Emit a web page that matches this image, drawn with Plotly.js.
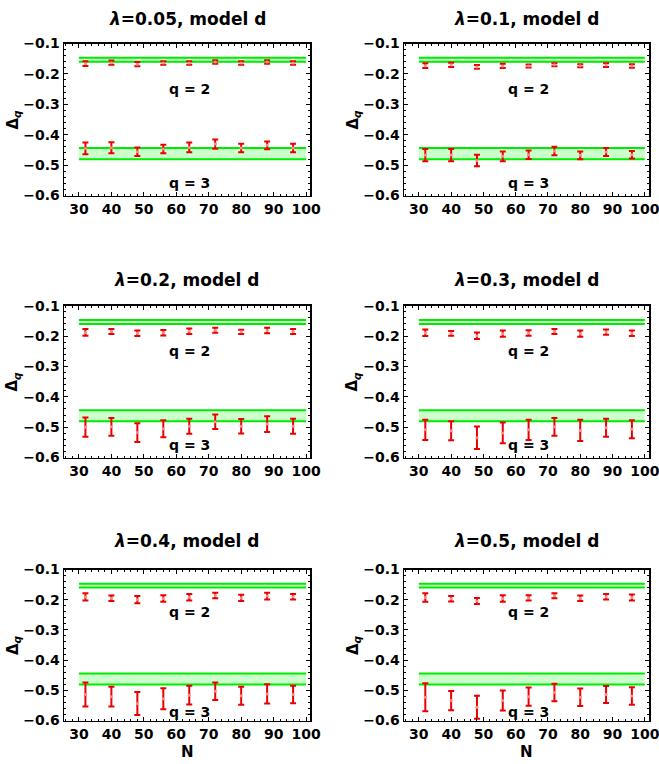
<!DOCTYPE html>
<html>
<head>
<meta charset="utf-8">
<script src="https://cdn.plot.ly/plotly-3.0.1.min.js"></script>
<style>html,body{margin:0;padding:0;background:#fff;}#chart{width:659px;height:764px;}</style>
</head>
<body>
<div id="chart"></div>
<script>
// ---- data ----
const N = [32, 40, 48, 56, 64, 72, 80, 88, 96];
const lambdas = ['0.05', '0.1', '0.2', '0.3', '0.4', '0.5'];
const xTicks = [30, 40, 50, 60, 70, 80, 90, 100];
const yTicks = [-0.1, -0.2, -0.3, -0.4, -0.5, -0.6];
const bandX = [30, 100];
const bandQ2 = [-0.147, -0.160];
const bandQ3 = [-0.444, -0.481];

const q2_l005 = [-0.166, -0.163, -0.168, -0.164, -0.164, -0.161, -0.164, -0.161, -0.164];
const q2err_l005 = [0.008, 0.007, 0.007, 0.006, 0.006, 0.006, 0.006, 0.006, 0.006];
const q3_l005 = [-0.445, -0.443, -0.456, -0.447, -0.442, -0.431, -0.444, -0.435, -0.444];
const q3err_l005 = [0.019, 0.018, 0.014, 0.014, 0.016, 0.015, 0.014, 0.013, 0.014];

const q2_l01 = [-0.173, -0.170, -0.177, -0.174, -0.174, -0.170, -0.173, -0.171, -0.174];
const q2err_l01 = [0.008, 0.007, 0.006, 0.007, 0.005, 0.005, 0.005, 0.006, 0.006];
const q3_l01 = [-0.467, -0.467, -0.485, -0.471, -0.466, -0.454, -0.468, -0.457, -0.466];
const q3err_l01 = [0.020, 0.020, 0.019, 0.016, 0.014, 0.014, 0.013, 0.013, 0.012];

const q2_l02 = [-0.188, -0.185, -0.191, -0.189, -0.184, -0.181, -0.186, -0.182, -0.185];
const q2err_l02 = [0.011, 0.008, 0.009, 0.009, 0.009, 0.008, 0.007, 0.009, 0.008];
const q3_l02 = [-0.500, -0.499, -0.518, -0.505, -0.497, -0.482, -0.497, -0.490, -0.497];
const q3err_l02 = [0.032, 0.029, 0.031, 0.028, 0.025, 0.024, 0.024, 0.026, 0.025];

const q2_l03 = [-0.189, -0.191, -0.199, -0.192, -0.190, -0.185, -0.192, -0.187, -0.191];
const q2err_l03 = [0.011, 0.008, 0.011, 0.010, 0.009, 0.008, 0.010, 0.009, 0.009];
const q3_l03 = [-0.509, -0.512, -0.535, -0.519, -0.509, -0.499, -0.511, -0.502, -0.507];
const q3err_l03 = [0.033, 0.031, 0.037, 0.034, 0.033, 0.029, 0.035, 0.030, 0.030];

const q2_l04 = [-0.191, -0.195, -0.200, -0.196, -0.192, -0.186, -0.194, -0.188, -0.190];
const q2err_l04 = [0.012, 0.009, 0.012, 0.011, 0.011, 0.009, 0.010, 0.011, 0.009];
const q3_l04 = [-0.514, -0.521, -0.544, -0.528, -0.516, -0.503, -0.518, -0.512, -0.514];
const q3err_l04 = [0.040, 0.033, 0.038, 0.035, 0.031, 0.029, 0.030, 0.032, 0.029];

const q2_l05 = [-0.193, -0.197, -0.204, -0.196, -0.194, -0.187, -0.195, -0.190, -0.193];
const q2err_l05 = [0.014, 0.009, 0.010, 0.011, 0.009, 0.008, 0.009, 0.009, 0.010];
const q3_l05 = [-0.523, -0.534, -0.556, -0.534, -0.521, -0.507, -0.523, -0.514, -0.519];
const q3err_l05 = [0.046, 0.032, 0.038, 0.033, 0.030, 0.029, 0.029, 0.028, 0.029];

const q2Series = [q2_l005, q2_l01, q2_l02, q2_l03, q2_l04, q2_l05];
const q2Errors = [q2err_l005, q2err_l01, q2err_l02, q2err_l03, q2err_l04, q2err_l05];
const q3Series = [q3_l005, q3_l01, q3_l02, q3_l03, q3_l04, q3_l05];
const q3Errors = [q3err_l005, q3err_l01, q3err_l02, q3err_l03, q3err_l04, q3err_l05];

// label positions (data coords) per row
const qLabelX = 64;
const q2LabelY = [-0.249, -0.249, -0.240];
const q3LabelY = [-0.559, -0.559, -0.572];

// ---- layout geometry ----
const W = 659, H = 764;
const colDom = [[64 / W, 310.3 / W], [404 / W, 649 / W]];
const rowTopPx = [43.5, 305.7, 569.5];
const rowBotPx = [195.5, 457.5, 720.5];
const titlePx = [18.5, 280, 540.5];

const FONT = 'DejaVu Sans, Liberation Sans, Arial, sans-serif';
const GREEN = 'rgb(0,235,0)';
const FILL = 'rgba(190,255,190,0.8)';
const RED = 'rgb(235,0,0)';

const traces = [];
const layout = {
  width: W, height: H,
  margin: {l: 0, r: 0, t: 0, b: 0},
  paper_bgcolor: '#fff', plot_bgcolor: '#fff',
  showlegend: false,
  annotations: []
};

for (let i = 0; i < 6; i++) {
  const row = Math.floor(i / 2), col = i % 2;
  const sfx = i === 0 ? '' : String(i + 1);
  const xa = 'x' + sfx, ya = 'y' + sfx;
  const xDom = colDom[col];
  const yDom = [1 - rowBotPx[row] / H, 1 - rowTopPx[row] / H];

  layout['xaxis' + sfx] = {
    domain: xDom, anchor: ya, range: [25.4, 101.3],
    tickvals: xTicks, ticks: 'inside', ticklen: 4, tickwidth: 1, tickcolor: '#000',
    minor: {dtick: 2, ticks: 'inside', ticklen: 2, tickwidth: 1, tickcolor: '#000'},
    showline: true, linecolor: '#000', linewidth: 1.5, mirror: 'ticks',
    showgrid: false, zeroline: false, fixedrange: true,
    ticklabeloverflow: 'allow',
    tickfont: {family: FONT, size: 14, color: '#000', weight: 'bold'}
  };
  layout['yaxis' + sfx] = {
    domain: yDom, anchor: xa, range: [-0.6, -0.1],
    tickvals: yTicks, tickformat: '.1f', ticks: 'inside', ticklen: 4, tickwidth: 1, tickcolor: '#000',
    minor: {dtick: 0.02, ticks: 'inside', ticklen: 2, tickwidth: 1, tickcolor: '#000'},
    showline: true, linecolor: '#000', linewidth: 1.5, mirror: 'ticks',
    showgrid: false, zeroline: false, fixedrange: true,
    ticklabeloverflow: 'allow',
    tickfont: {family: FONT, size: 14, color: '#000', weight: 'bold'}
  };

  // bands
  [bandQ2, bandQ3].forEach(b => {
    traces.push({x: bandX, y: [b[0], b[0]], xaxis: xa, yaxis: ya, mode: 'lines',
      line: {color: GREEN, width: 2}, hoverinfo: 'skip'});
    traces.push({x: bandX, y: [b[1], b[1]], xaxis: xa, yaxis: ya, mode: 'lines',
      line: {color: GREEN, width: 2}, fill: 'tonexty', fillcolor: FILL, hoverinfo: 'skip'});
  });

  // data with error bars
  [[q2Series[i], q2Errors[i]], [q3Series[i], q3Errors[i]]].forEach(s => {
    traces.push({
      x: N, y: s[0], xaxis: xa, yaxis: ya, mode: 'markers', type: 'scatter',
      marker: {color: 'rgb(255,140,140)', size: 3},
      error_y: {type: 'data', array: s[1], visible: true, color: RED, thickness: 2, width: 3}
    });
  });

  const cx = (xDom[0] + xDom[1]) / 2;
  // title
  layout.annotations.push({
    xref: 'paper', yref: 'paper', x: cx, y: 1 - titlePx[row] / H,
    xanchor: 'center', yanchor: 'middle', showarrow: false,
    text: '<i>λ</i>=' + lambdas[i] + ', model d',
    font: {family: FONT, size: 17, color: '#000', weight: 'bold'}
  });
  // y title
  layout.annotations.push({
    xref: 'paper', yref: 'paper', x: (col === 0 ? 13 : 353) / W,
    y: (yDom[0] + yDom[1]) / 2, xanchor: 'center', yanchor: 'middle',
    showarrow: false, textangle: -90,
    text: 'Δ<sub><i>q</i></sub>',
    font: {family: FONT, size: 15, color: '#000', weight: 'bold'}
  });
  // q labels
  layout.annotations.push({
    xref: xa, yref: ya, x: qLabelX, y: q2LabelY[row], showarrow: false,
    xanchor: 'center', yanchor: 'middle', text: 'q = 2',
    font: {family: FONT, size: 14, color: '#000', weight: 'bold'}
  });
  layout.annotations.push({
    xref: xa, yref: ya, x: qLabelX, y: q3LabelY[row], showarrow: false,
    xanchor: 'center', yanchor: 'middle', text: 'q = 3',
    font: {family: FONT, size: 14, color: '#000', weight: 'bold'}
  });
  // N label on bottom row
  if (row === 2) {
    layout.annotations.push({
      xref: 'paper', yref: 'paper', x: cx, y: 1 - 752 / H,
      xanchor: 'center', yanchor: 'middle', showarrow: false, text: 'N',
      font: {family: FONT, size: 15, color: '#000', weight: 'bold'}
    });
  }
}

Plotly.newPlot('chart', traces, layout, {staticPlot: true, displayModeBar: false});
</script>
</body>
</html>
